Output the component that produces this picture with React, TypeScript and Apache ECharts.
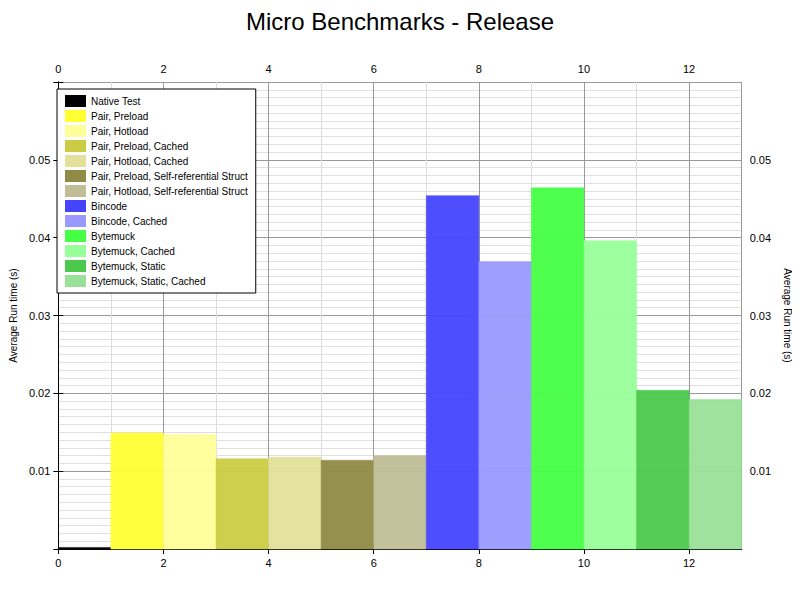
import { useEffect, useRef } from 'react';
import * as echarts from 'echarts';

const names = [
  'Native Test',
  'Pair, Preload',
  'Pair, Hotload',
  'Pair, Preload, Cached',
  'Pair, Hotload, Cached',
  'Pair, Preload, Self-referential Struct',
  'Pair, Hotload, Self-referential Struct',
  'Bincode',
  'Bincode, Cached',
  'Bytemuck',
  'Bytemuck, Cached',
  'Bytemuck, Static',
  'Bytemuck, Static, Cached',
];
const runtimes = [0.0002, 0.0149, 0.0147, 0.0116, 0.0118, 0.0114, 0.012, 0.0454, 0.0369, 0.0464, 0.0396, 0.0204, 0.0192];
const colors = [
  '#000000', '#ffff33', '#ffff99', '#cccc44', '#e2e09a', '#8f8a45', '#c0bd97',
  '#4545ff', '#9999ff', '#44ff44', '#99ff99', '#4cc94c', '#99e099',
];

const font = 'Liberation Sans, Arial, sans-serif';

const App = () => {
  const ref = useRef<HTMLDivElement>(null);

  useEffect(() => {
    if (!ref.current) return;
    const chart = echarts.init(ref.current, undefined, { renderer: 'svg' });

    const series = names.map((name, i) => ({
      name,
      type: 'custom',
      data: [[i, runtimes[i]]],
      itemStyle: { color: colors[i] },
      z: 3,
      renderItem: (_p: any, api: any) => {
        const x = api.value(0);
        const v = api.value(1);
        const a = api.coord([x, 0]);
        const b = api.coord([x + 1, v]);
        return {
          type: 'rect',
          shape: { x: a[0], y: b[1], width: b[0] - a[0], height: a[1] - b[1] },
          style: { fill: colors[i], opacity: 0.95, stroke: colors[i], lineWidth: 0.5 },
        };
      },
    }));

    const xBase = {
      type: 'value',
      min: 0,
      max: 13,
      interval: 2,
      axisLine: { show: true, lineStyle: { color: '#000', width: 1 } },
      axisTick: { show: true, inside: false, length: 5, lineStyle: { color: '#000' } },
      axisLabel: { color: '#000', fontFamily: font, fontSize: 11, showMaxLabel: false },
      minorTick: { show: false, splitNumber: 2 },
      minorSplitLine: { show: true, lineStyle: { color: '#dddddd' } },
    };
    const yBase = {
      type: 'value',
      min: 0,
      max: 0.06,
      interval: 0.01,
      axisLine: { show: true, lineStyle: { color: '#000', width: 1 } },
      axisTick: { show: true, inside: false, length: 5, lineStyle: { color: '#000' } },
      axisLabel: {
        color: '#000', fontFamily: font, fontSize: 11,
        formatter: (v: number) => (v === 0 || v > 0.055 ? '' : String(+v.toFixed(2))),
      },
      nameLocation: 'middle',
      name: 'Average Run time (s)',
      nameTextStyle: { color: '#000', fontFamily: font, fontSize: 10 },
      minorTick: { show: false, splitNumber: 10 },
      minorSplitLine: { show: true, lineStyle: { color: '#e0e0e0' } },
    };

    chart.setOption({
      animation: false,
      backgroundColor: '#fff',
      title: {
        text: 'Micro Benchmarks - Release',
        left: 'center',
        top: 4,
        textStyle: { fontFamily: font, fontSize: 24, fontWeight: 'normal', color: '#000' },
      },
      legend: {
        orient: 'vertical',
        left: 57,
        top: 89,
        padding: [6, 8, 6, 8],
        width: 184,
        itemGap: 3,
        itemWidth: 21,
        itemHeight: 12,
        icon: 'rect',
        borderColor: '#000',
        borderWidth: 1,
        backgroundColor: '#fff',
        textStyle: { fontFamily: font, fontSize: 10, color: '#000' },
        data: names,
      },
      grid: { left: 50, right: 50, top: 82, bottom: 51 },
      xAxis: [
        { ...xBase, position: 'bottom', splitLine: { show: true, lineStyle: { color: '#999' } } },
        { ...xBase, position: 'top', splitLine: { show: false }, minorSplitLine: { show: false } },
      ],
      yAxis: [
        { ...yBase, position: 'left', nameGap: 40, splitLine: { show: true, lineStyle: { color: '#999' } } },
        { ...yBase, position: 'right', nameGap: 40, nameRotate: -90, splitLine: { show: false }, minorSplitLine: { show: false } },
      ],
      series,
    });

    return () => chart.dispose();
  }, []);

  return <div ref={ref} style={{ width: 800, height: 600, margin: -8 }} />;
};

export default App;
